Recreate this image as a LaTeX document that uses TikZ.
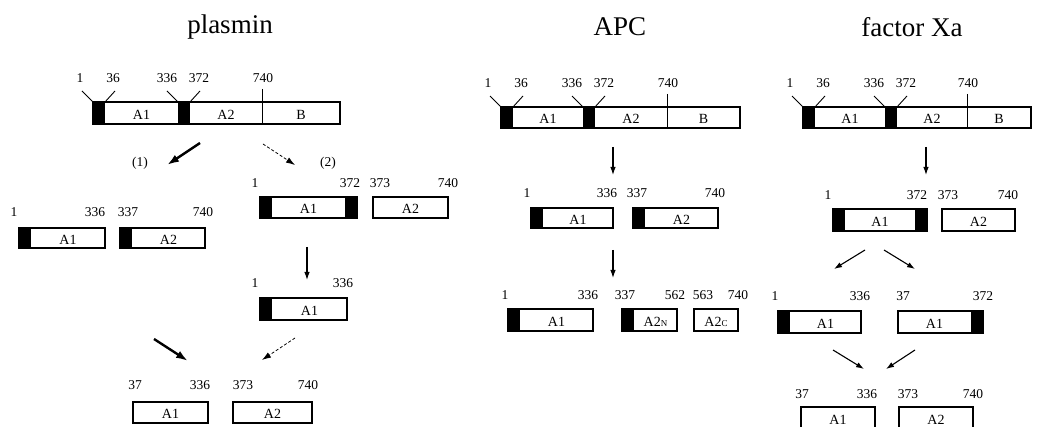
\documentclass[tikz,border=0pt]{standalone}
\usepackage{fontspec}
\setmainfont{Liberation Serif}
\usetikzlibrary{arrows.meta}
\tikzset{
  box/.style={draw, line width=1.2pt},
  blk/.style={fill=black},
  vline/.style={line width=0.9pt},
  lab/.style={font=\fontsize{14}{14}\selectfont, inner sep=0pt},
  num/.style={font=\fontsize{13.5}{13.5}\selectfont, inner sep=0pt},
  ttl/.style={font=\fontsize{27}{27}\selectfont, inner sep=0pt},
  arr/.style={-{Latex[length=8pt,width=5.5pt]}, line width=1.1pt},
  thickarr/.style={-{Latex[length=12pt,width=8pt]}, line width=2.4pt},
  darr/.style={-{Latex[length=9pt,width=6pt]}, line width=0.8pt, dash pattern=on 3pt off 2pt}
}
% fragment box: name, x1, x2, ytop, ybot, left black, right black, text
\newcommand\frag[8]{%
  \ifnum#6=1 \fill[blk] (#2,#4) rectangle ({#2+12},#5);\fi
  \ifnum#7=1 \fill[blk] ({#3-12},#4) rectangle (#3,#5);\fi
  \draw[box] (#2,#4) rectangle (#3,#5);
  \node[lab] (#1) at ({(#2+12*#6+#3-12*#7)/2},{(#4+#5)/2+1.5}) {#8};}
\newcommand\lbl[4]{\node[num] (#1) at (#2,#3) {#4};}
% full chain: name, x0, x1, xd, xe, ytop, ybot
\newcommand\chain[7]{%
  \fill[blk] (#2,#6) rectangle ({#2+12},#7);
  \fill[blk] (#3,#6) rectangle ({#3+12},#7);
  \draw[box] (#2,#6) rectangle (#5,#7);
  \draw[vline] (#4,{#6-13}) -- (#4,#7);
  \draw[vline] (#2,#6) -- ({#2-11},{#6-11});
  \draw[vline] ({#2+12},#6) -- ({#2+22},{#6-11});
  \draw[vline] (#3,#6) -- ({#3-11},{#6-11});
  \draw[vline] ({#3+12},#6) -- ({#3+22},{#6-11});
  \node[lab] (#1A1) at ({(#2+12+#3)/2},{(#6+#7)/2+1.5}) {A1};
  \node[lab] (#1A2) at ({(#3+12+#4)/2},{(#6+#7)/2+1.5}) {A2};
  \node[lab] (#1B) at ({(#4+#5)/2},{(#6+#7)/2+1.5}) {B};
  \lbl{#1n1}{#2-13}{#6-24}{1}
  \lbl{#1n2}{#2+20}{#6-24}{36}
  \lbl{#1n3}{#3-11}{#6-24}{336}
  \lbl{#1n4}{#3+21}{#6-24}{372}
  \lbl{#1n5}{#4+1}{#6-24}{740}}
\begin{document}
\begin{tikzpicture}[x=1pt,y=-1pt]
\useasboundingbox (0,0) rectangle (1037,427);
\begin{scope}
\clip (0,0) rectangle (1037,427);
% titles
\node[ttl] (t1) at (230,27) {plasmin};
\node[ttl] (t2) at (620,27) {APC};
\node[ttl] (t3) at (912,27) {factor Xa};

% ---------------- plasmin ----------------
\chain{p}{93}{178}{262}{340}{102}{124}
\coordinate (pa1s) at (200,143); \coordinate (pa1e) at (167,165);
\draw[thickarr] (pa1s) -- (pa1e);
\lbl{pl1}{140}{163}{(1)}
\coordinate (pa2s) at (263,144); \coordinate (pa2e) at (295,165);
\draw[darr] (pa2s) -- (pa2e);
\lbl{pl2}{328}{163}{(2)}
% route (1)
\lbl{pr1a}{14}{212}{1}
\lbl{pr1b}{95}{212}{336}
\lbl{pr1c}{128}{212}{337}
\lbl{pr1d}{203}{212}{740}
\frag{pf1}{19}{105}{228}{248}{1}{0}{A1}
\frag{pf2}{120}{205}{228}{248}{1}{0}{A2}
% route (2)
\lbl{pr2a}{255}{183}{1}
\lbl{pr2b}{350}{183}{372}
\lbl{pr2c}{380}{183}{373}
\lbl{pr2d}{448}{183}{740}
\frag{pf3}{260}{357}{197}{218}{1}{1}{A1}
\frag{pf4}{373}{448}{197}{218}{0}{0}{A2}
\coordinate (pa3s) at (307,247); \coordinate (pa3e) at (307,280);
\draw[arr] (pa3s) -- (pa3e);
\lbl{pr3a}{255}{283}{1}
\lbl{pr3b}{343}{283}{336}
\frag{pf5}{260}{347}{298}{320}{1}{0}{A1}
% converging
\coordinate (pa4s) at (154,339); \coordinate (pa4e) at (188,361);
\draw[thickarr] (pa4s) -- (pa4e);
\coordinate (pa5s) at (295,338); \coordinate (pa5e) at (262,360);
\draw[darr] (pa5s) -- (pa5e);
\lbl{pr4a}{135}{385}{37}
\lbl{pr4b}{200}{385}{336}
\lbl{pr4c}{243}{385}{373}
\lbl{pr4d}{308}{385}{740}
\frag{pf6}{133}{208}{402}{423}{0}{0}{A1}
\frag{pf7}{233}{312}{402}{423}{0}{0}{A2}

% ---------------- APC ----------------
\chain{a}{501}{583}{667}{740}{107}{128}
\coordinate (aa1s) at (613,147); \coordinate (aa1e) at (613,175);
\draw[arr] (aa1s) -- (aa1e);
\lbl{ar1a}{527}{193}{1}
\lbl{ar1b}{607}{193}{336}
\lbl{ar1c}{637}{193}{337}
\lbl{ar1d}{715}{193}{740}
\frag{af1}{531}{613}{208}{228}{1}{0}{A1}
\frag{af2}{633}{718}{208}{228}{1}{0}{A2}
\coordinate (aa2s) at (613,250); \coordinate (aa2e) at (613,278);
\draw[arr] (aa2s) -- (aa2e);
\lbl{ar2a}{505}{295}{1}
\lbl{ar2b}{588}{295}{336}
\lbl{ar2c}{625}{295}{337}
\lbl{ar2d}{675}{295}{562}
\lbl{ar2e}{703}{295}{563}
\lbl{ar2f}{738}{295}{740}
\frag{af3}{508}{593}{309}{331}{1}{0}{A1}
\frag{af4}{622}{677}{309}{331}{1}{0}{A2{\fontsize{9}{9}\selectfont N}}
\frag{af5}{694}{738}{309}{331}{0}{0}{A2{\fontsize{9}{9}\selectfont C}}

% ---------------- factor Xa ----------------
\chain{x}{803}{885}{967}{1031}{107}{128}
\coordinate (xa1s) at (926,147); \coordinate (xa1e) at (926,175);
\draw[arr] (xa1s) -- (xa1e);
\lbl{xr1a}{828}{195}{1}
\lbl{xr1b}{917}{195}{372}
\lbl{xr1c}{948}{195}{373}
\lbl{xr1d}{1008}{195}{740}
\frag{xf1}{833}{927}{209}{231}{1}{1}{A1}
\frag{xf2}{942}{1015}{209}{231}{0}{0}{A2}
\coordinate (xa2s) at (865,250); \coordinate (xa2e) at (834,269);
\draw[arr] (xa2s) -- (xa2e);
\coordinate (xa3s) at (884,250); \coordinate (xa3e) at (915,269);
\draw[arr] (xa3s) -- (xa3e);
\lbl{xr2a}{775}{296}{1}
\lbl{xr2b}{860}{296}{336}
\lbl{xr2c}{903}{296}{37}
\lbl{xr2d}{983}{296}{372}
\frag{xf3}{778}{861}{311}{333}{1}{0}{A1}
\frag{xf4}{898}{983}{311}{333}{0}{1}{A1}
\coordinate (xa4s) at (833,350); \coordinate (xa4e) at (864,369);
\draw[arr] (xa4s) -- (xa4e);
\coordinate (xa5s) at (915,350); \coordinate (xa5e) at (886,369);
\draw[arr] (xa5s) -- (xa5e);
\lbl{xr3a}{802}{394}{37}
\lbl{xr3b}{867}{394}{336}
\lbl{xr3c}{908}{394}{373}
\lbl{xr3d}{973}{394}{740}
\frag{xf5}{801}{875}{407}{429}{0}{0}{A1}
\frag{xf6}{899}{973}{407}{429}{0}{0}{A2}
\end{scope}
\end{tikzpicture}
\end{document}
